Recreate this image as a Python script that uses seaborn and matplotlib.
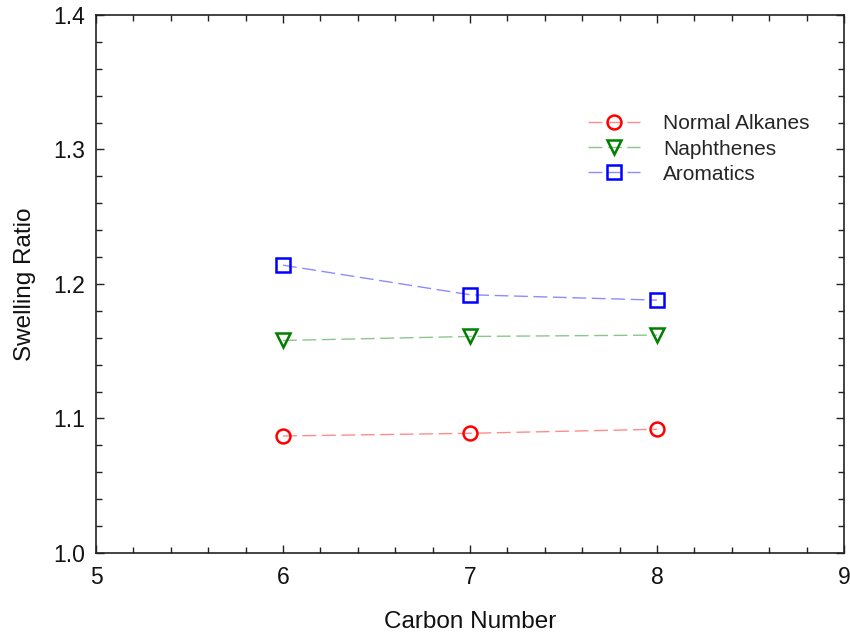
import matplotlib
matplotlib.use("Agg")
import matplotlib.pyplot as plt
import seaborn as sns
import pandas as pd
from matplotlib.ticker import MultipleLocator

carbon = [6, 7, 8]
alkanes = [1.087, 1.089, 1.092]
naphthenes = [1.158, 1.161, 1.162]
aromatics = [1.214, 1.192, 1.188]
series_names = ["Normal Alkanes", "Naphthenes", "Aromatics"]

rows = []
for name, vals in zip(series_names, [alkanes, naphthenes, aromatics]):
    for c, v in zip(carbon, vals):
        rows.append({"Carbon Number": c, "Swelling Ratio": v, "Series": name})
df = pd.DataFrame(rows)

sns.set_theme(style="white")
plt.rcParams['font.family'] = ['Liberation Sans', 'DejaVu Sans']

fig = plt.figure(figsize=(8.5, 6.39), dpi=100)
ax = fig.add_axes([96/850, 1-553/639, (844-96)/850, (553-15)/639])

colors = {"Normal Alkanes": "#ff0000", "Naphthenes": "#008000", "Aromatics": "#0000ff"}
markers = {"Normal Alkanes": "o", "Naphthenes": "v", "Aromatics": "s"}
for name in series_names:
    sub = df[df["Series"] == name]
    sns.lineplot(data=sub, x="Carbon Number", y="Swelling Ratio", ax=ax,
                 color=colors[name], marker=markers[name], markersize=10,
                 markerfacecolor="none", markeredgecolor=colors[name],
                 markeredgewidth=1.8, linestyle=(0, (10, 4)), linewidth=1.0,
                 label=name)

ax.set_xlim(5, 9)
ax.set_ylim(1.0, 1.4)
ax.xaxis.set_major_locator(MultipleLocator(1))
ax.xaxis.set_minor_locator(MultipleLocator(0.2))
ax.yaxis.set_major_locator(MultipleLocator(0.1))
ax.yaxis.set_minor_locator(MultipleLocator(0.02))
ax.yaxis.set_major_formatter(matplotlib.ticker.FormatStrFormatter('%.1f'))
ax.tick_params(which="both", direction="in", top=True, right=True,
               bottom=True, left=True, color="#222222", labelcolor="#111111")
ax.tick_params(which="major", length=6, width=1, labelsize=16.5)
ax.tick_params(axis="x", which="major", pad=9)
ax.tick_params(axis="y", which="major", pad=8)
ax.tick_params(which="minor", length=4, width=1)
for s in ax.spines.values():
    s.set_color("#222222")
    s.set_linewidth(1.2)

ax.set_xlabel("Carbon Number", fontsize=17.5, labelpad=16, color="#111111")
ax.set_ylabel("Swelling Ratio", fontsize=17.5, labelpad=12, color="#111111")

leg = ax.legend(loc="upper left", bbox_to_anchor=(0.647, 0.831), frameon=False,
                fontsize=15, handlelength=2.5, labelspacing=0.3, handletextpad=1.1,
                borderaxespad=0)
for line in ax.get_lines() + leg.get_lines():
    c = line.get_markeredgecolor()
    line.set_color(matplotlib.colors.to_rgba(c, 0.45))
    line.set_markeredgecolor(c)

fig.savefig("out.png", dpi=100, facecolor="white")
